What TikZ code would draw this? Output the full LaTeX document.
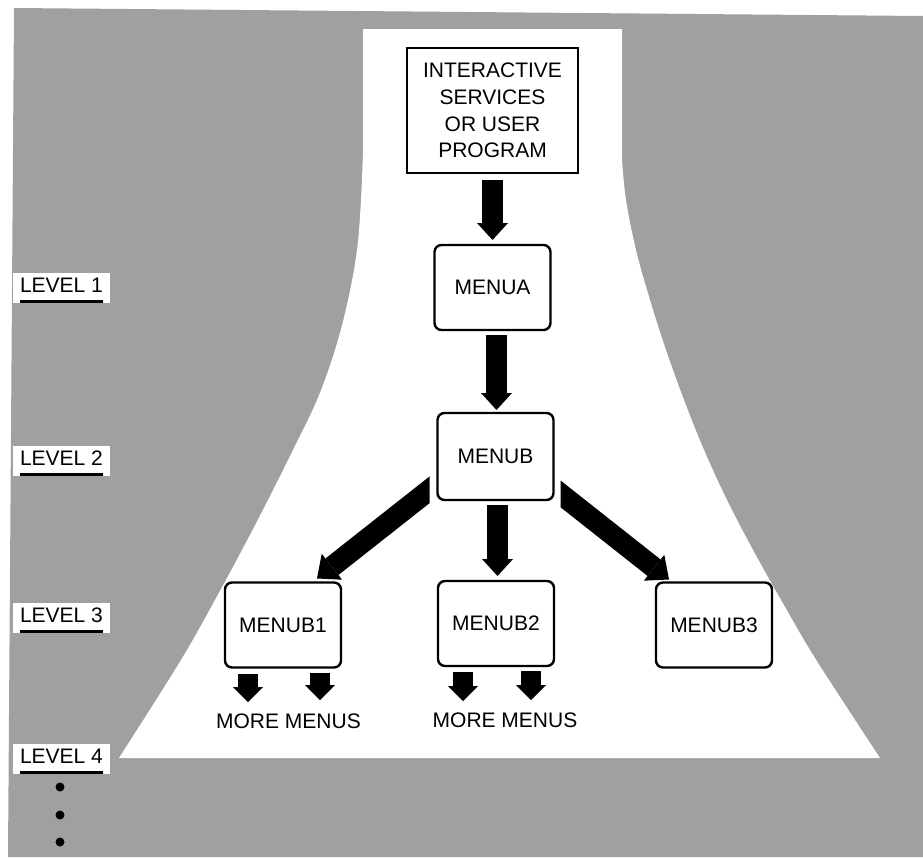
\documentclass[tikz,border=0pt]{standalone}
\usepackage{fontspec}
\setmainfont{Liberation Sans}
\usetikzlibrary{arrows.meta,calc}
\definecolor{screen}{RGB}{160,160,160}
\begin{document}
\begin{tikzpicture}[x=1pt,y=-1pt,
  txt/.style={font=\fontsize{21}{26.7}\selectfont},
  progbox/.style={txt, draw, line width=2.4pt, fill=white, outer sep=0pt,
    minimum width=171pt, minimum height=125pt, align=center, inner sep=0pt},
  menubox/.style={txt, draw, line width=2.4pt, fill=white, outer sep=0pt,
    rounded corners=7pt, minimum width=116pt, minimum height=85pt, inner sep=0pt},
  bigarrow/.style={line width=21pt, -{Triangle[length=17pt,width=31pt,line width=0pt]}},
  diagarrow/.style={line width=21pt, -{Triangle[length=19pt,width=33pt,line width=0pt]}},
  smallarrow/.style={line width=20pt, -{Triangle[length=15pt,width=30pt,line width=0pt]}},
  lvl/.style={txt, fill=white, inner xsep=7pt, inner ysep=0pt, outer sep=0pt,
    text height=19pt, text depth=11pt, anchor=base west},
  uline/.style={line width=2.5pt},
  more/.style={txt, inner sep=0pt, outer sep=0pt, text height=15pt, text depth=0pt, anchor=north},
]
\useasboundingbox (0,0) rectangle (923,857);

% halftone ground
\fill[screen] (14,8) -- (923,16) -- (923,857) -- (8,857) -- cycle;

% white funnel
\fill[white] (622,29) -- (363,29) -- (363,140)
  -- plot[smooth,tension=0.6] coordinates {(363,150) (361,200) (357,250) (348,300)
     (335,350) (317,400) (293,450) (268,500) (242,550) (215,600) (187,650) (156,700) (119,758)}
  -- plot[smooth,tension=0.6] coordinates {(880,758) (842,700) (810,650) (781,600)
     (753,550) (727,500) (704,450) (684,400) (666,350) (650,300) (636,250) (626,200) (622,160)}
  -- cycle;

% level labels
\node[lvl] (lv1) at (13,292) {LEVEL 1};
\node[lvl] (lv2) at (13,465) {LEVEL 2};
\node[lvl] (lv3) at (13,622) {LEVEL 3};
\node[lvl] (lv4) at (13,763) {LEVEL 4};
\foreach \l in {lv1,lv2,lv3,lv4}
  \draw[uline] ($(\l.base west)+(7,9.5)$) -- ($(\l.base east)+(-7,9.5)$);

% continuation dots
\fill (60,787) circle[radius=4.5pt];
\fill (60,815) circle[radius=4.5pt];
\fill (60,842) circle[radius=4.5pt];

% menu boxes
\node[progbox] (prog) at (492.5,110.5) {INTERACTIVE\\SERVICES\\OR USER\\PROGRAM};
\node[menubox] (menua) at (492.5,287.5) {MENUA};
\node[menubox, minimum height=87pt] (menub) at (495.5,456.5) {MENUB};
\node[menubox] (menub1) at (283,625) {MENUB1};
\node[menubox] (menub2) at (496,623.5) {MENUB2};
\node[menubox] (menub3) at (714,625) {MENUB3};

% vertical flow arrows
\draw[bigarrow, shorten <=7pt, shorten >=5pt] (prog.south) -- (menua.north);
\draw[bigarrow, shorten <=5pt, shorten >=3pt] ($(menua.south)+(4,0)$) -- ($(menub.north)+(1,0)$);
\draw[bigarrow, shorten <=5pt, shorten >=5pt] ($(menub.south)+(2,0)$) -- ($(menub2.north)+(1.5,0)$);

% diagonal arrows, cut square at the box side
\begin{scope}
  \clip (0,0) rectangle ($(menub.west)+(-8,400)$);
  \draw[diagarrow] ($(menub.south west)+(7,-22)$) -- ($(menub1.north east)+(-24,-4)$);
\end{scope}
\begin{scope}
  \clip ($(menub.east)+(7,-450)$) rectangle (923,857);
  \draw[diagarrow] ($(menub.south east)+(-8,-18)$) -- ($(menub3.north west)+(13,-3)$);
\end{scope}

% further menus
\node[more] (more1) at (288.5,713) {MORE MENUS};
\node[more] (more2) at (505,712) {MORE MENUS};
\draw[smallarrow] ($(menub1.south)+(-35,6)$) -- ($(menub1.south |- more1.north)+(-35,-11)$);
\draw[smallarrow] ($(menub1.south)+(37,5)$) -- ($(menub1.south |- more1.north)+(37,-13)$);
\draw[smallarrow] ($(menub2.south)+(-33,6)$) -- ($(menub2.south |- more2.north)+(-33,-11)$);
\draw[smallarrow] ($(menub2.south)+(35,5)$) -- ($(menub2.south |- more2.north)+(35,-12)$);
\end{tikzpicture}
\end{document}
